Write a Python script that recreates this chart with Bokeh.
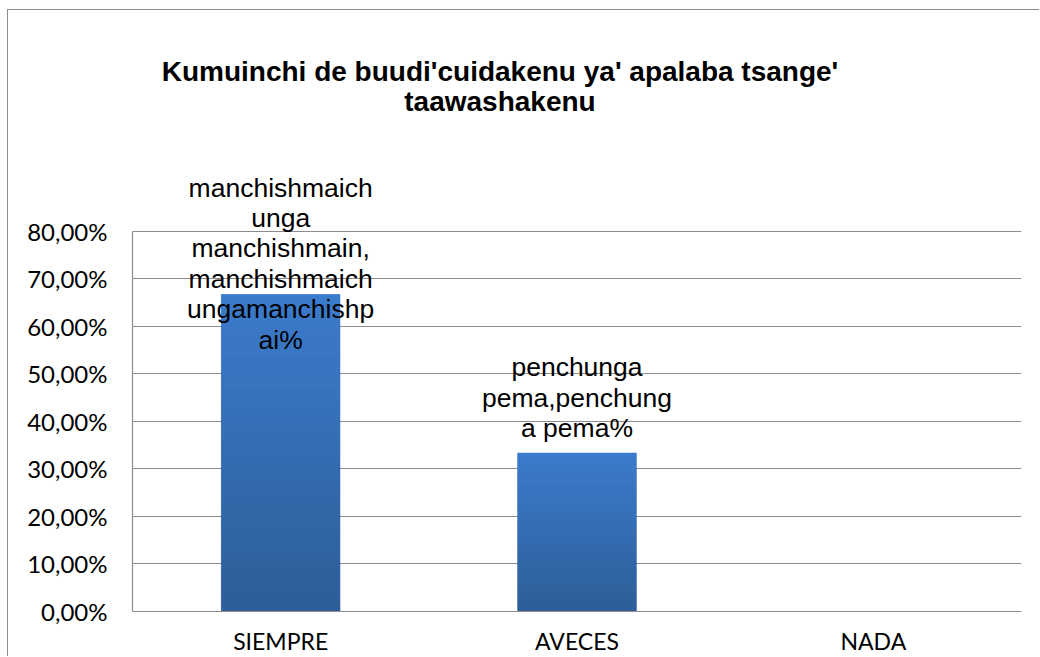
from bokeh.plotting import figure
from bokeh.models import (FactorRange, Range1d, FixedTicker, CustomJSTickFormatter,
                          ColumnDataSource, LabelSet, Label)
from bokeh.core.properties import value
from bokeh.embed import file_html
from bokeh.resources import INLINE

# ---- data ----
categories = ["SIEMPRE", "AVECES", "NADA"]
values = [0.6667, 0.3333, 0.0]
data_labels = [
    "manchishmaich\nunga\nmanchishmain,\nmanchishmaich\nungamanchishp\nai%",
    "penchunga\npema,penchung\na pema%",
    "",
]
y_ticks = [0.0, 0.1, 0.2, 0.3, 0.4, 0.5, 0.6, 0.7, 0.8]
title_lines = ["Kumuinchi de buudi'cuidakenu ya' apalaba tsange'", "taawashakenu"]

# ---- style ----
last_line_offsets = [-60, 10, 0]   # px offset of the last label line from the bar top
line_step = 30.4
top_color = (60, 124, 205)
bottom_color = (46, 94, 152)
grid_color = "#8c8c8c"

W, H = 1032, 647
p = figure(width=W, height=H, x_range=FactorRange(*categories, range_padding=0),
           y_range=Range1d(0, 1.26), output_backend="svg", toolbar_location=None,
           min_border_left=124, min_border_right=19, min_border_top=2,
           min_border_bottom=0)
p.styles = {"margin-left": "7px", "margin-top": "9px",
            "border-left": "1px solid #8c8c8c", "border-top": "1px solid #8c8c8c"}
p.outline_line_color = None
p.background_fill_color = "white"
p.border_fill_color = "white"

# gradient bars: stacked slices of each bar
N = 30
xs, bots, tops, cols = [], [], [], []
for c, v in zip(categories, values):
    if v <= 0:
        continue
    for k in range(N):
        t = (k + 0.5) / N
        r = int(bottom_color[0] + (top_color[0] - bottom_color[0]) * t)
        g = int(bottom_color[1] + (top_color[1] - bottom_color[1]) * t)
        b = int(bottom_color[2] + (top_color[2] - bottom_color[2]) * t)
        xs.append(c)
        bots.append(v * k / N)
        tops.append(v * (k + 1) / N)
        cols.append("#%02x%02x%02x" % (r, g, b))

src = ColumnDataSource(dict(x=categories, top=values))
p.vbar(x="x", top="top", bottom=0, width=0.4, source=src,
       fill_color="#3568ad", line_color=None)
p.vbar(x=xs, top=tops, bottom=bots, width=0.4, fill_color=cols,
       line_color=cols, line_width=0.6)

# axes
p.yaxis.ticker = FixedTicker(ticks=y_ticks)
p.yaxis.bounds = (y_ticks[0], y_ticks[-1])
p.yaxis.formatter = CustomJSTickFormatter(
    code="return (tick*100).toFixed(2).replace('.', ',') + '%';")
for ax in (p.xaxis, p.yaxis):
    ax.axis_line_color = grid_color
    ax.axis_line_width = 1.2
    ax.major_tick_line_color = None
    ax.minor_tick_line_color = None
    ax.major_label_text_color = "#000000"
    ax.major_label_text_font = "Lato"
p.yaxis.major_label_text_font_size = "24px"
p.yaxis.major_label_standoff = 19
p.xaxis.major_label_text_font_size = "23px"
p.xaxis.major_label_standoff = 9

p.xgrid.grid_line_color = None
p.ygrid.grid_line_color = grid_color
p.ygrid.grid_line_width = 1.2
p.ygrid.ticker = FixedTicker(ticks=y_ticks)

# data labels: one row per text line, each line centred on its bar
lx, ly, lt, lo = [], [], [], []
for c, v, txt, off in zip(categories, values, data_labels, last_line_offsets):
    if not txt:
        continue
    lines = txt.split("\n")
    n = len(lines)
    for i, ln in enumerate(lines):
        lx.append(c)
        ly.append(v)
        lt.append(ln)
        lo.append(off + (n - 1 - i) * line_step)
lsrc = ColumnDataSource(dict(x=lx, y=ly, text=lt, off=lo))
p.add_layout(LabelSet(x="x", y="y", text="text", y_offset="off", source=lsrc,
                      text_align="center", text_baseline="bottom",
                      text_font=value("Liberation Sans"), text_font_size="26.5px",
                      text_color="#000000"))

# title (two centered lines)
for i, line in enumerate(title_lines):
    p.add_layout(Label(x=367.5, y=540 - 30 * i, x_units="screen", y_units="screen",
                       text=line, text_align="center", text_baseline="alphabetic",
                       text_font="Liberation Sans", text_font_style="bold",
                       text_font_size="28px", text_color="#000000"))

open("out.html", "w").write(file_html(p, INLINE))
